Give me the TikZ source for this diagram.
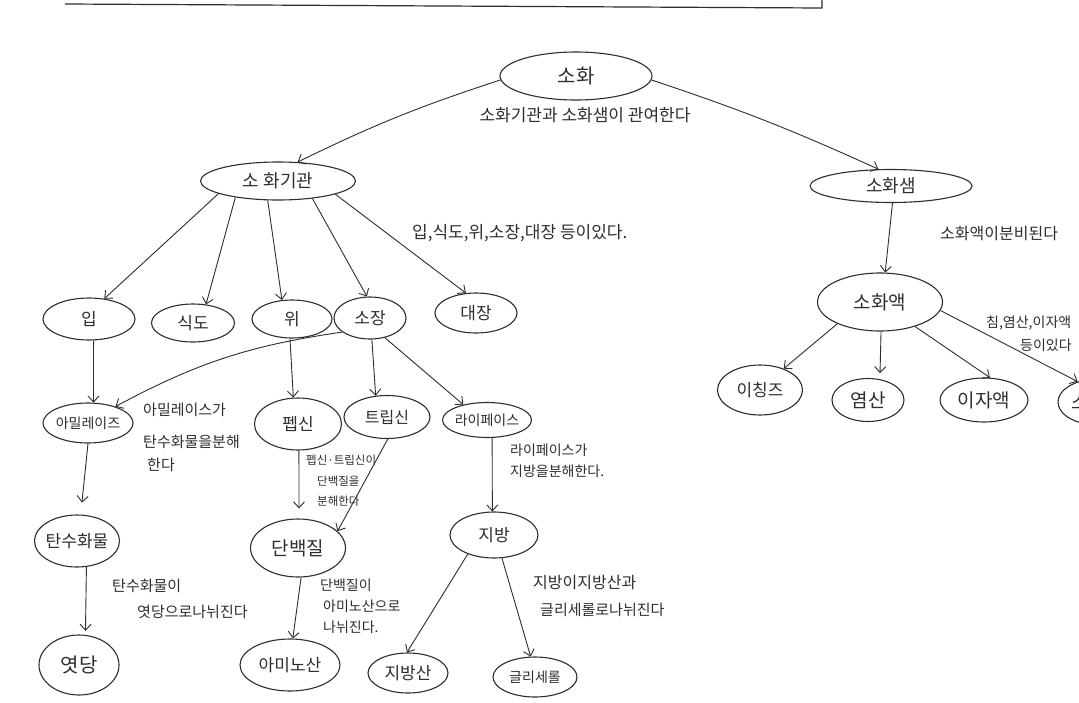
\documentclass[tikz,border=0pt]{standalone}
\usepackage{fontspec}
\setmainfont{Noto Sans CJK KR}
\usetikzlibrary{shapes.geometric,arrows.meta}
\definecolor{ink}{HTML}{2E2E2E}
\newcommand{\fs}[1]{\fontsize{#1}{#1}\selectfont}
\newcommand{\cz}[1]{\makebox[0pt]{#1}}
\begin{document}
\begin{tikzpicture}[x=1pt,y=-1pt,
  nd/.style={ellipse,draw=ink,line width=1.1pt,inner sep=0pt,text=ink,font=\fs{17}},
  tx/.style={text=ink,inner sep=0pt,anchor=west,font=\fs{15}},
  arr/.style={draw=ink,line width=0.9pt,-{Straight Barb[length=6pt,width=11pt]}},
  frame/.style={draw=ink,line width=1.2pt}
]
\useasboundingbox (0,0) rectangle (1079,702);
\clip (0,0) rectangle (1079,702);
\fill[white] (0,0) rectangle (1079,702);

% fragment of a box at the top
\draw[frame] (65,4) -- (822,8) -- (822,0);

% ---------- nodes ----------
\node[nd,minimum width=152pt,minimum height=48pt,font=\fs{20}] (sh) at (576,76) {\cz{소화}};
\node[nd,minimum width=155pt,minimum height=38pt,font=\fs{18}] (gg) at (278,181) {\cz{소 화기관}};
\node[nd,minimum width=162pt,minimum height=33pt,font=\fs{18}] (ss) at (891,186) {\cz{소화샘}};
\node[nd,minimum width=125pt,minimum height=58pt,font=\fs{19}] (sa) at (880,302) {\cz{소화액}};

\node[nd,minimum width=92pt,minimum height=42pt] (ip) at (89,319) {\cz{입}};
\node[nd,minimum width=83pt,minimum height=38pt] (sd) at (193,323) {\cz{식도}};
\node[nd,minimum width=80pt,minimum height=38pt] (wi) at (292,319) {\cz{위}};
\node[nd,minimum width=72pt,minimum height=42pt] (sj) at (370,318) {\cz{소장}};
\node[nd,minimum width=82pt,minimum height=40pt] (dj) at (476,313) {\cz{대장}};

\node[nd,minimum width=90pt,minimum height=40pt,font=\fs{14}] (am) at (88,423) {\cz{아밀레이즈}};
\node[nd,minimum width=87pt,minimum height=52pt] (pp) at (298,424) {\cz{펩신}};
\node[nd,minimum width=86pt,minimum height=43pt,font=\fs{16}] (tr) at (387,417) {\cz{트립신}};
\node[nd,minimum width=89pt,minimum height=35pt,font=\fs{14}] (lp) at (487,420) {\cz{라이페이스}};

\node[nd,minimum width=85pt,minimum height=52pt] (th) at (77,541) {\cz{탄수화물}};
\node[nd,minimum width=95pt,minimum height=58pt,font=\fs{19}] (db) at (298,548) {\cz{단백질}};
\node[nd,minimum width=88pt,minimum height=46pt] (jb) at (494,535) {\cz{지방}};

\node[nd,minimum width=80pt,minimum height=60pt,font=\fs{20}] (yd) at (79,665) {\cz{엿당}};
\node[nd,minimum width=100pt,minimum height=52pt] (an) at (290,665) {\cz{아미노산}};
\node[nd,minimum width=80pt,minimum height=40pt] (js) at (408,673) {\cz{지방산}};
\node[nd,minimum width=84pt,minimum height=40pt,font=\fs{14}] (gl) at (535,677) {\cz{글리세롤}};

\node[nd,minimum width=85pt,minimum height=50pt] (ic) at (760,390) {\cz{이칭즈}};
\node[nd,minimum width=72pt,minimum height=43pt,font=\fs{19}] (ys) at (868,400) {\cz{염산}};
\node[nd,minimum width=88pt,minimum height=44pt,font=\fs{19}] (ij) at (984,400) {\cz{이자액}};
\node[nd,minimum width=80pt,minimum height=46pt,font=\fs{19}] (sy) at (1098,402) {\cz{소장액}};

% ---------- texts ----------
\node[tx,font=\fs{17},anchor=center] (t1) at (585,115) {소화기관과 소화샘이 관여한다};
\node[tx,font=\fs{17}] (t2) at (412,233) {입,식도,위,소장,대장 등이있다.};
\node[tx,font=\fs{16}] (t3) at (940,234) {소화액이분비된다};
\node[tx,font=\fs{14}] (t4a) at (986,323) {침,염산,이자액};
\node[tx,font=\fs{14}] (t4b) at (1020,345) {등이있다};

\node[tx] (t5a) at (143,410) {아밀레이스가};
\node[tx] (t5b) at (143,442) {탄수화물을분해};
\node[tx] (t5c) at (147,465) {한다};

\node[tx,font=\fs{11.5}] (t6a) at (306,460) {펩신·트립신이};
\node[tx,font=\fs{11.5}] (t6b) at (317,481) {단백질을};
\node[tx,font=\fs{11.5}] (t6c) at (317,501) {분해한다};

\node[tx,font=\fs{14}] (t7a) at (510,450) {라이페이스가};
\node[tx,font=\fs{14}] (t7b) at (510,471) {지방을분해한다.};

\node[tx] (t8a) at (112,586) {탄수화물이};
\node[tx] (t8b) at (137,612) {엿당으로나뉘진다};

\node[tx,font=\fs{14}] (t9a) at (320,585) {단백질이};
\node[tx,font=\fs{14}] (t9b) at (323,606) {아미노산으로};
\node[tx,font=\fs{14}] (t9c) at (323,627) {나뉘진다.};

\node[tx,font=\fs{16}] (t10a) at (533,583) {지방이지방산과};
\node[tx,font=\fs{15}] (t10b) at (540,610) {글리세롤로나뉘진다};

% ---------- connectors ----------
\draw[arr] (sh.183) to[bend right=4] (gg.44);
\draw[arr] (sh.357) to[bend left=3] (ss.127);
\draw[arr] (ss.275) -- (sa.80);

\draw[arr] (gg.192) -- (ip.53);
\draw[arr] (gg.201) -- (sd.55);
\draw[arr] (gg.242) -- (wi.118);
\draw[arr] (gg.333) -- (sj.98);
\draw[arr] (gg.347) -- (dj.117);

\draw[arr] (sa.207) -- (ic.42);
\draw[arr] (sa.272) -- ([shift={(0,-6)}]ys.60);
\draw[arr] (sa.325) -- (ij.75);
\draw[arr] (sa.352) -- (sy.135);

\draw[arr] (ip.282) -- (am.75);
\draw[arr] (sj.207) to[bend right=10] (am.31);
\draw[arr] (wi.264) -- (pp.100);
\draw[arr] (sj.275) -- (tr.118);
\draw[arr] (sj.307) -- (lp.147);

\draw[arr,shorten >=12pt] (am.270) -- (th.82);
\draw[arr,shorten >=4pt] (th.290) -- (yd.78);
\draw[arr,shorten >=10pt] (pp.272) -- (db.88);
\draw[arr] (tr.272) -- (db.23);
\draw[arr] (lp.286) -- (jb.94);

\draw[arr] (db.276) -- (an.84);
\draw[arr] (jb.216) -- (js.93);
\draw[arr] (jb.289) -- (gl.102);
\end{tikzpicture}
\end{document}
